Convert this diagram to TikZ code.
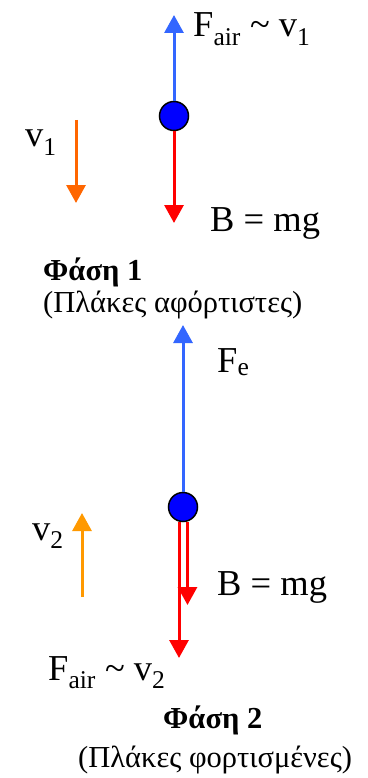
\documentclass[tikz,border=0pt]{standalone}
\usepackage{fontspec}
\setmainfont{Liberation Serif}
\usetikzlibrary{arrows.meta}
\definecolor{fblue}{RGB}{51,102,255}
\definecolor{fred}{RGB}{255,0,0}
\definecolor{vorangeA}{RGB}{255,102,0}
\definecolor{vorangeB}{RGB}{255,153,0}
\definecolor{ballblue}{RGB}{0,0,255}
\begin{document}
\begin{tikzpicture}[x=1pt,y=-1pt,
  vec/.style={line width=3pt,-{Triangle[length=18pt,width=19pt]}},
  lbl/.style={inner sep=0pt,anchor=base west,font=\fontsize{36.5}{40}\selectfont},
  captxt/.style={inner sep=0pt,anchor=base west,font=\fontsize{30.5}{34}\selectfont},
  ball/.style={circle,draw=black,line width=1.5pt,fill=ballblue,minimum size=29pt,inner sep=0pt}]
\useasboundingbox (0,0) rectangle (367,778);
% ---------- Phase 1 ----------
\node[ball] (b1) at (174,116) {};
\coordinate (t1up) at (174,15);
\coordinate (t1dn) at (174,223);
\coordinate (v1top) at (76,120);
\coordinate (v1tip) at (76,203);
\draw[vec,fblue] (b1.north) -- (t1up);
\draw[vec,fred] (b1.south) -- (t1dn);
\draw[vec,vorangeA] (v1top) -- (v1tip);
\node[lbl] (fair1) at (193,37) {F\textsubscript{air} \textasciitilde{} v\textsubscript{1}};
\node[lbl] (bmg1) at (210,231) {B = mg};
\node[lbl] (v1) at (25,147) {v\textsubscript{1}};
\node[captxt] (ph1) at (43,280) {\textbf{Φάση 1}};
\node[captxt] (ph1c) at (43,312) {(Πλάκες αφόρτιστες)};
% ---------- Phase 2 ----------
\node[ball] (b2) at (183,507) {};
\coordinate (t2up) at (183,325);
\coordinate (t2air) at (179,658);
\coordinate (t2mg) at (187.5,605);
\coordinate (v2bot) at (82,597);
\coordinate (v2tip) at (82,513);
\draw[vec,fblue] (b2.north) -- (t2up);
\draw[vec,fred] (b2.south -| t2air) -- (t2air);
\draw[vec,fred] (b2.south -| t2mg) -- (t2mg);
\draw[vec,vorangeB] (v2bot) -- (v2tip);
\node[lbl] (fe) at (217,372) {F\textsubscript{e}};
\node[lbl] (bmg2) at (217,595) {B = mg};
\node[lbl] (fair2) at (48,680) {F\textsubscript{air} \textasciitilde{} v\textsubscript{2}};
\node[lbl] (v2) at (32,540) {v\textsubscript{2}};
\node[captxt] (ph2) at (163,728) {\textbf{Φάση 2}};
\node[captxt] (ph2c) at (78,767) {(Πλάκες φορτισμένες)};
\end{tikzpicture}
\end{document}
